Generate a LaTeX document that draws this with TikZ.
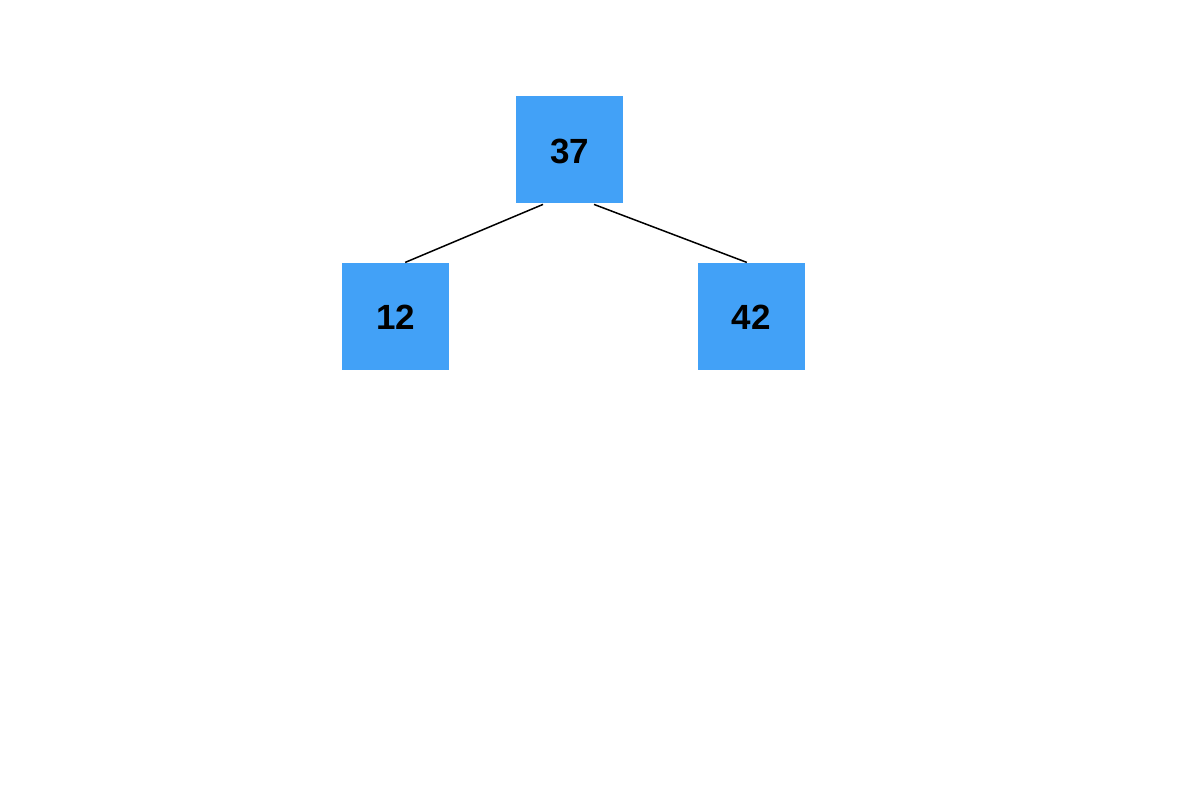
\documentclass[tikz,border=0pt]{standalone}
\usepackage{fontspec}
\setmainfont{Liberation Sans}
\usepackage{xcolor}
\usetikzlibrary{positioning}

\definecolor{keyblue}{HTML}{42A1F7}

\begin{document}
\begin{tikzpicture}[
  x=0.5pt, y=-0.5pt,
  node distance=29.5pt and 33pt,
  key/.style={fill=keyblue, minimum size=53.5pt, inner sep=0pt, text height=13.5pt, text depth=0pt, font=\fontsize{17.5}{20}\selectfont\bfseries},
  edge/.style={line width=0.75pt}
]
\useasboundingbox (0,0) rectangle (1200,800);
\node[key] (root) at (569.5,149.5) {37};
\node[key, below left=of root] (lo) {12};
\node[key, below right=29.5pt and 37pt of root] (hi) {42};
\draw[edge] ([xshift=-13.25pt,yshift=-0.5pt]root.south) -- ([xshift=4.75pt]lo.north);
\draw[edge] ([xshift=12.25pt,yshift=-0.5pt]root.south) -- ([xshift=-2.25pt]hi.north);
\end{tikzpicture}
\end{document}
